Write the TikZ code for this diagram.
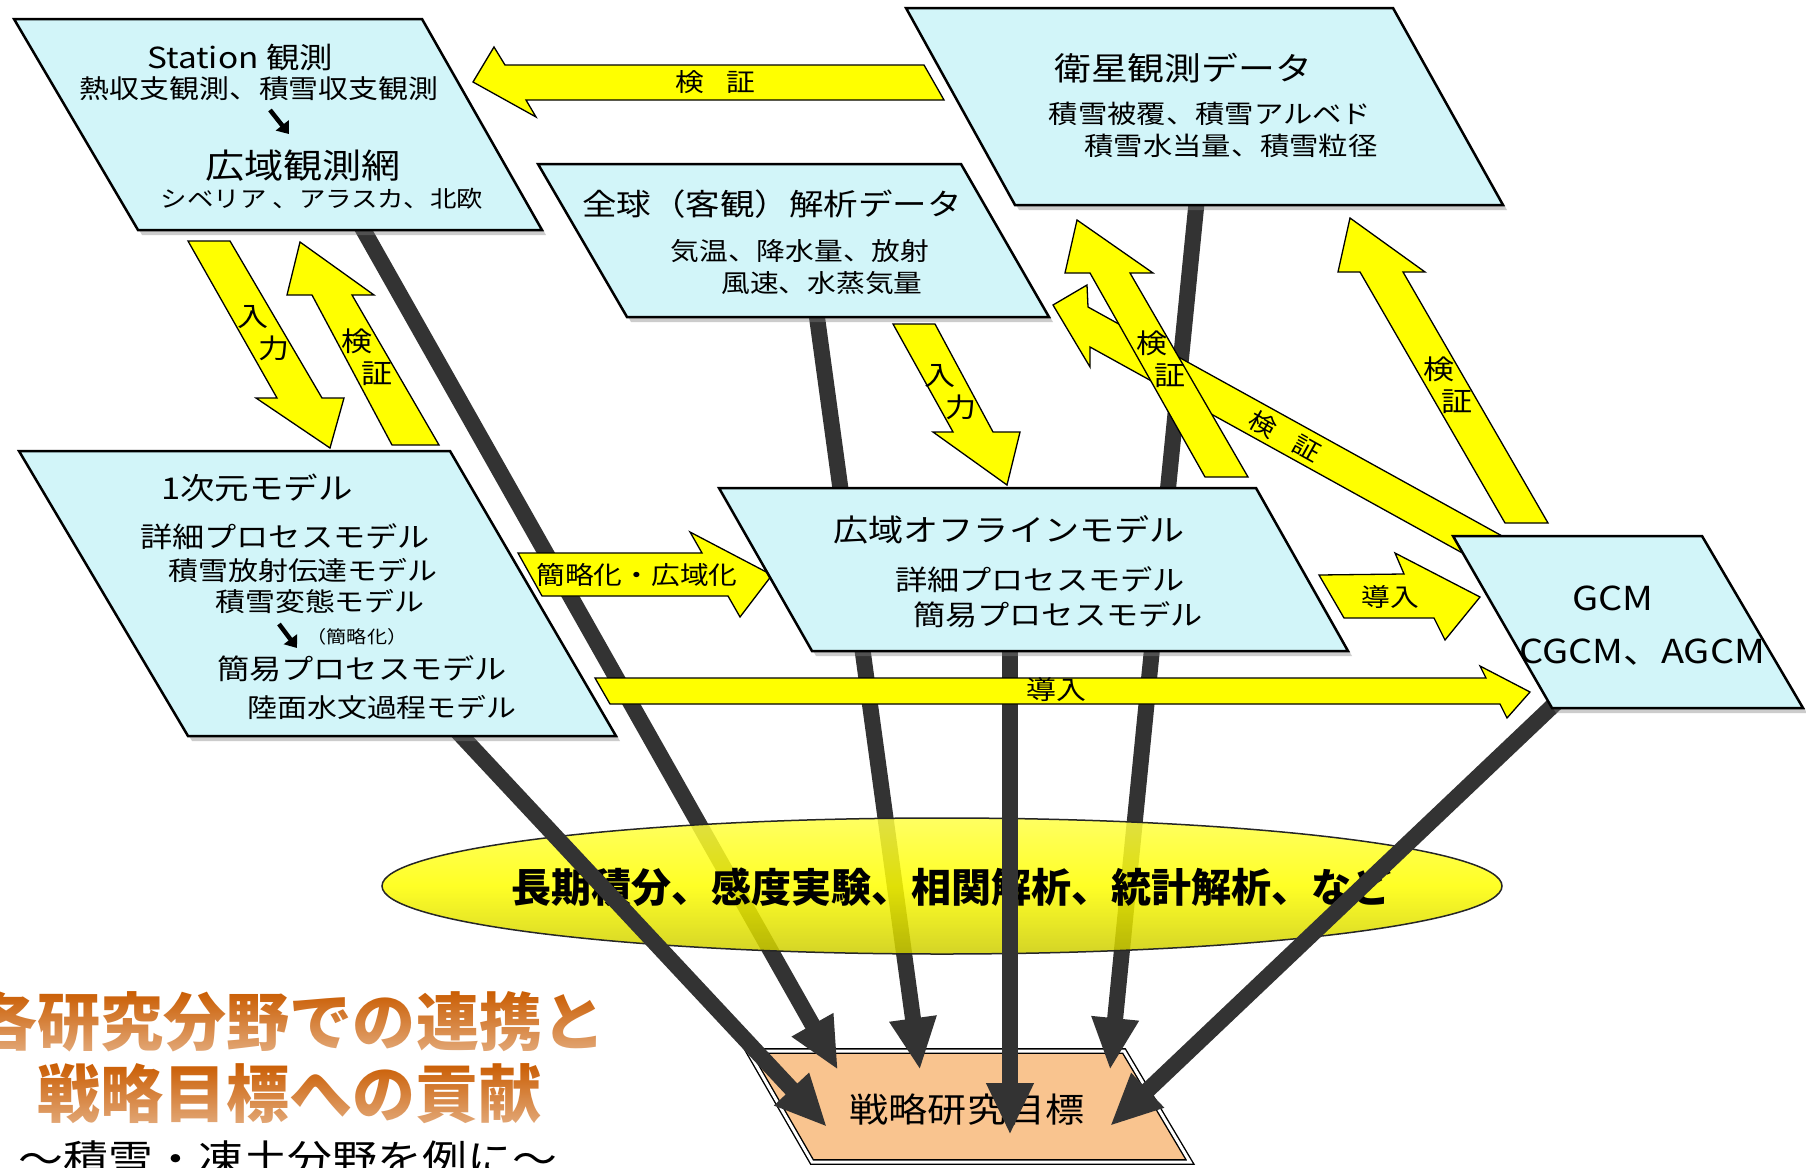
\documentclass[tikz,border=0pt]{standalone}
\usepackage{fontspec}
\setmainfont{Noto Sans CJK JP}[FakeStretch=1.15]
\newfontfamily\titlefont{Noto Sans CJK JP}
\usetikzlibrary{arrows.meta,shadows,shapes.geometric,fadings}
\definecolor{boxfill}{HTML}{D2F5F9}
\definecolor{ylw}{HTML}{FFFF00}
\definecolor{dline}{HTML}{333333}
\definecolor{peach}{HTML}{F9C48F}
\definecolor{ttlc}{HTML}{CA5C00}
\newcommand\fsz[1]{\fontsize{#1pt}{#1pt}\selectfont}
\tikzfading[name=tfade, top color=transparent!100, bottom color=transparent!52]
\tikzset{
  pbox/.style={draw=black,line width=2.5pt,fill=boxfill,line join=miter,
    drop shadow={shadow xshift=4pt,shadow yshift=-5pt,opacity=.4}},
  yarr/.style={draw=black,line width=1.3pt,fill=ylw,line join=miter},
  bline/.style={draw=dline,line width=16pt,-{Triangle[length=52pt,width=44pt]}},
  jt/.style={font=\fsz{#1}},
  vlab/.style={font={\fontsize{27pt}{32pt}\selectfont},align=left},
  ttl/.style={font=\titlefont\bfseries\fsz{63},text=ttlc},
  smallarr/.style={line width=4.5pt,-{Triangle[length=11pt,width=16pt]}},
}
\begin{document}
\begin{tikzpicture}[x=1pt,y=-1pt,every node/.style={inner sep=0pt,outer sep=0pt}]
\useasboundingbox (0,0) rectangle (1806,1167);
\clip (0,0) rectangle (1806,1167);
\fill[white] (0,0) rectangle (1806,1167);

% ---------- corners ----------
\coordinate (st-tl) at (14,19);   \coordinate (st-tr) at (422,19);
\coordinate (st-br) at (542,230); \coordinate (st-bl) at (138,230);
\coordinate (sat-tl) at (906,8);    \coordinate (sat-tr) at (1393,8);
\coordinate (sat-br) at (1503,205); \coordinate (sat-bl) at (1015,205);
\coordinate (ana-tl) at (538,164);  \coordinate (ana-tr) at (961,164);
\coordinate (ana-br) at (1049,317); \coordinate (ana-bl) at (627,317);
\coordinate (one-tl) at (19,451);   \coordinate (one-tr) at (450,451);
\coordinate (one-br) at (616,736);  \coordinate (one-bl) at (188,736);
\coordinate (off-tl) at (719,488);  \coordinate (off-tr) at (1256,488);
\coordinate (off-br) at (1348,651); \coordinate (off-bl) at (812,651);
\coordinate (gcm-tl) at (1453,536); \coordinate (gcm-tr) at (1702,536);
\coordinate (gcm-br) at (1803,708); \coordinate (gcm-bl) at (1552,708);
\coordinate (tg-tl) at (748,1051);  \coordinate (tg-tr) at (1124,1051);
\coordinate (tg-br) at (1190,1162); \coordinate (tg-bl) at (812,1162);

% ---------- target box ----------
\path[fill=peach,draw=black,line width=1.4pt,double=white,double distance=3pt]
  (tg-tl) -- (tg-tr) -- (tg-br) -- (tg-bl) -- cycle;
\node[jt=34] (tgt) at (967,1110) {戦略研究目標};

% ---------- black connectors (behind ellipse) ----------
\coordinate (st-out) at (360,224);   \coordinate (tip2) at (838,1070);
\coordinate (ana-out) at (816,310);  \coordinate (tip3) at (920,1070);
\coordinate (sat-out) at (1197,198); \coordinate (tip5) at (1110,1070);
\draw[bline] (st-out) -- (tip2);
\draw[bline] (ana-out) -- (tip3);
\draw[bline] (sat-out) -- (tip5);

% ---------- ellipse ----------
\node[ellipse,minimum width=1120pt,minimum height=136pt,draw=black!85,line width=1.5pt,
  top color={rgb,255:red,255;green,255;blue,70},bottom color={rgb,255:red,205;green,205;blue,0},
  middle color={rgb,255:red,255;green,255;blue,0},fill opacity=0.85] (ell) at (942,886) {};
\node[font=\titlefont\bfseries\fsz{40}] (elltxt) at (951,887) {長期積分、感度実験、相関解析、統計解析、など};

% ---------- black connectors (over ellipse) ----------
\coordinate (one-out) at (456,730);  \coordinate (tip1) at (827,1127);
\coordinate (off-out) at (1010,644); \coordinate (tip4) at (1010,1135);
\coordinate (gcm-out) at (1561,698); \coordinate (tip6) at (1110,1126);
\draw[bline] (one-out) -- (tip1);
\draw[bline] (off-out) -- (tip4);
\draw[bline] (gcm-out) -- (tip6);

% ---------- yellow block arrows ----------
% satellite -> station
\path[yarr] (473,82) -- (494,47) -- (505,65) -- (924,65) -- (944,100) -- (526,100) -- (536,117) -- cycle;
\node[jt=25] (lb1) at (715,82) {検\hspace{22pt}証};
% station -> 1D (input)
\path[yarr] (188,241) -- (230,241) -- (322,398) -- (344,398) -- (330,448) -- (256,398) -- (277,398) -- cycle;
\node[vlab] (lb2) at (264,333) {入\\\hspace*{21pt}力};
% 1D -> station (verify)
\path[yarr] (300,242) -- (374,295) -- (352,295) -- (439,445) -- (392,445) -- (312,295) -- (287,295) -- cycle;
\node[vlab] (lb3) at (367,357) {検\\\hspace*{20pt}証};
% analysis -> offline (input)
\path[yarr] (893,324) -- (935,324) -- (993,432) -- (1020,432) -- (1007,485) -- (933,432) -- (953,432) -- cycle;
\node[vlab] (lb4) at (951,392) {入\\\hspace*{21pt}力};
% 1D -> offline
\path[yarr] (518,553) -- (702,553) -- (690,532) -- (772,575) -- (740,617) -- (728,596) -- (542,596) -- cycle;
\node[jt=25] (lb5) at (637,575) {簡略化・広域化};
% offline -> GCM
\path[yarr] (1319,575) -- (1404,574) -- (1395,553) -- (1480,597) -- (1445,640) -- (1434,618) -- (1344,618) -- cycle;
\node[jt=25] (lb6) at (1390,597) {導入};
% 1D -> GCM
\path[yarr] (595,678) -- (1486,678) -- (1480,666) -- (1530,692) -- (1507,718) -- (1500,704) -- (610,704) -- cycle;
\node[jt=26] (lb7) at (1056,690) {導入};
% GCM -> analysis (diagonal)
\path[yarr] (1053,305) -- (1087,285) -- (1088,307) -- (1560,568) -- (1560,607) -- (1090,347) -- (1090,367) -- cycle;
\node[jt=24,rotate=-29] (lb10) at (1285,436) {検\hspace{22pt}証};
% offline -> satellite
\path[yarr] (1077,220) -- (1153,273) -- (1130,273) -- (1248,477) -- (1205,477) -- (1090,273) -- (1065,273) -- cycle;
\node[vlab] (lb8) at (1161,359) {検\\\hspace*{18pt}証};
% GCM -> satellite
\path[yarr] (1350,218) -- (1425,272) -- (1403,272) -- (1548,523) -- (1505,523) -- (1360,272) -- (1338,272) -- cycle;
\node[vlab] (lb9) at (1448,385) {検\\\hspace*{18pt}証};

% ---------- boxes ----------
\path[pbox] (st-tl) -- (st-tr) -- (st-br) -- (st-bl) -- cycle;
\node[jt=29] (st1) at (240,58) {Station 観測};
\node[jt=26] (st2) at (259,89) {熱収支観測、積雪収支観測};
\coordinate (st-a1) at (270,110); \coordinate (st-a2) at (289,134);
\draw[smallarr] (st-a1) -- (st-a2);
\node[jt=34] (st3) at (303,166) {広域観測網};
\node[jt=23] (st4) at (322,199) {シベリア 、アラスカ、北欧};

\path[pbox] (sat-tl) -- (sat-tr) -- (sat-br) -- (sat-bl) -- cycle;
\node[jt=32] (sat1) at (1183,68) {衛星観測データ};
\node[jt=25.5] (sat2) at (1210,114) {積雪被覆、積雪アルベド};
\node[jt=25.5] (sat3) at (1231,146) {積雪水当量、積雪粒径};

\path[pbox] (ana-tl) -- (ana-tr) -- (ana-br) -- (ana-bl) -- cycle;
\node[jt=30] (ana1) at (772,204) {全球（客観）解析データ};
\node[jt=25] (ana2) at (800,251) {気温、降水量、放射};
\node[jt=25] (ana3) at (822,283) {風速、水蒸気量};

\path[pbox] (one-tl) -- (one-tr) -- (one-br) -- (one-bl) -- cycle;
\node[jt=30] (one1) at (257,488) {1次元モデル};
\node[jt=28] (one2) at (285,537) {詳細プロセスモデル};
\node[jt=26] (one3) at (303,571) {積雪放射伝達モデル};
\node[jt=26] (one4) at (320,602) {積雪変態モデル};
\coordinate (one-a1) at (279,624); \coordinate (one-a2) at (297,648);
\draw[smallarr] (one-a1) -- (one-a2);
\node[jt=17.5] (one5) at (357,637) {（簡略化）};
\node[jt=28] (one6) at (362,669) {簡易プロセスモデル};
\node[jt=26] (one7) at (382,707) {陸面水文過程モデル};

\path[pbox] (off-tl) -- (off-tr) -- (off-br) -- (off-bl) -- cycle;
\node[jt=30.5] (off1) at (1009,530) {広域オフラインモデル};
\node[jt=28] (off2) at (1040,580) {詳細プロセスモデル};
\node[jt=28] (off3) at (1058,615) {簡易プロセスモデル};

\path[pbox] (gcm-tl) -- (gcm-tr) -- (gcm-br) -- (gcm-bl) -- cycle;
\node[jt=33] (gcm1) at (1613,598) {GCM};
\node[jt=33] (gcm2) at (1642,652) {CGCM、AGCM};

% ---------- title ----------
\node[ttl] (t1) at (290,1021) {各研究分野での連携と};
\node[ttl] (t2) at (289,1094) {戦略目標への貢献};
\fill[white,path fading=tfade] (0,990) rectangle (640,1054);
\fill[white,path fading=tfade] (0,1062) rectangle (640,1126);
\node[jt=39,anchor=base] (t3) at (288,1173) {～積雪・凍土分野を例に～};
\end{tikzpicture}
\end{document}
